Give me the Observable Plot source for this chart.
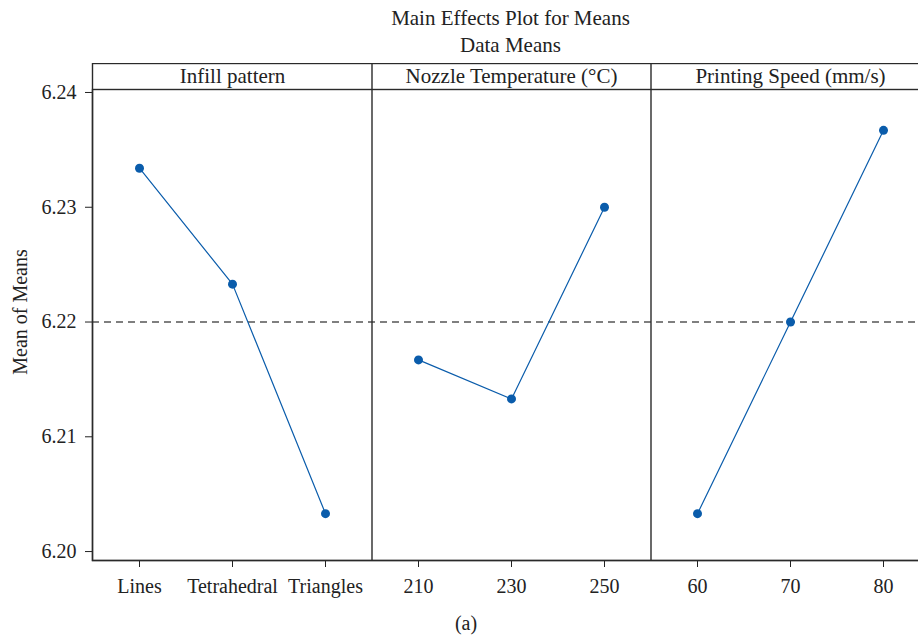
<!DOCTYPE html>
<html><head><meta charset="utf-8">
<script src="https://cdn.jsdelivr.net/npm/d3@7"></script>
<script src="https://cdn.jsdelivr.net/npm/@observablehq/plot@0.6"></script>
<style>
html,body{margin:0;padding:0;background:#fff;overflow:hidden;}
#wrap{position:relative;width:918px;height:637px;overflow:hidden;font-family:"Liberation Serif",serif;color:#222;}
.t{position:absolute;left:92px;width:837px;text-align:center;font-size:21px;line-height:24px;}
#chart{position:absolute;left:0;top:63px;}
#chart svg{max-width:none !important;}
#cap{position:absolute;left:0;width:932px;top:611px;text-align:center;font-size:20px;line-height:24px;}
#ylab{position:absolute;left:20px;top:312px;transform:translate(-50%,-50%) rotate(-90deg);white-space:nowrap;font-size:20px;line-height:24px;}
</style></head><body>
<div id="wrap">
<div class="t" style="top:6px">Main Effects Plot for Means</div>
<div class="t" style="top:33px">Data Means</div>
<div id="chart"></div>
<div id="ylab">Mean of Means</div>
<div id="cap">(a)</div>
</div>
<script>
const factors = ["Infill pattern", "Nozzle Temperature (°C)", "Printing Speed (mm/s)"];
const infillLevels = ["Lines", "Tetrahedral", "Triangles"];
const infillMeans = [6.2334, 6.2233, 6.2033];
const nozzleLevels = ["210", "230", "250"];
const nozzleMeans = [6.2167, 6.2133, 6.2300];
const speedLevels = ["60", "70", "80"];
const speedMeans = [6.2033, 6.2200, 6.2367];
const overallMean = 6.22;
const yTicks = [6.20, 6.21, 6.22, 6.23, 6.24];

const levelSets = [infillLevels, nozzleLevels, speedLevels];
const meanSets = [infillMeans, nozzleMeans, speedMeans];
const rows = [];
factors.forEach((f, i) => levelSets[i].forEach((lv, j) => rows.push({factor: f, level: lv, mean: meanSets[i][j]})));
const allLevels = levelSets.flat();
const headers = factors.map((f, i) => ({factor: f, mid: levelSets[i][1]}));
const panelStarts = [nozzleLevels[0], speedLevels[0]];

const blue = "#0a5cab";
const ink = "#2a2a2a";
const plotW = 837, mL = 92, mR = 10;
const step = plotW / allLevels.length;

const chart = Plot.plot({
  width: mL + plotW + mR,
  height: 542,
  marginTop: 26,
  marginLeft: mL,
  marginRight: mR,
  marginBottom: 45,
  style: {fontFamily: "Liberation Serif, serif", fontSize: "20px", color: "#222", background: "transparent", maxWidth: "none"},
  x: {type: "point", domain: allLevels, padding: 0.5, tickSize: 7, tickPadding: 11, label: null},
  y: {domain: [6.19922, 6.24026], ticks: yTicks, tickFormat: ".2f", tickSize: 7, tickPadding: 9, label: null},
  marks: [
    Plot.ruleY([overallMean], {stroke: "#555", strokeDasharray: "7,5", strokeWidth: 1.3}),
    Plot.line(rows, {x: "level", y: "mean", z: "factor", stroke: blue, strokeWidth: 1.2}),
    Plot.dot(rows, {x: "level", y: "mean", r: 4.5, fill: blue}),
    Plot.frame({stroke: ink, strokeWidth: 1.4}),
    Plot.frame({stroke: ink, strokeWidth: 1.4, insetTop: -26}),
    Plot.ruleX(panelStarts, {dx: -step / 2, insetTop: -26, stroke: ink, strokeWidth: 1.4}),
    Plot.text(headers, {x: "mid", text: "factor", frameAnchor: "top", lineAnchor: "middle", dy: -13, fontSize: 21, fill: "#222"})
  ]
});
document.getElementById("chart").appendChild(chart);
</script>
</body></html>
